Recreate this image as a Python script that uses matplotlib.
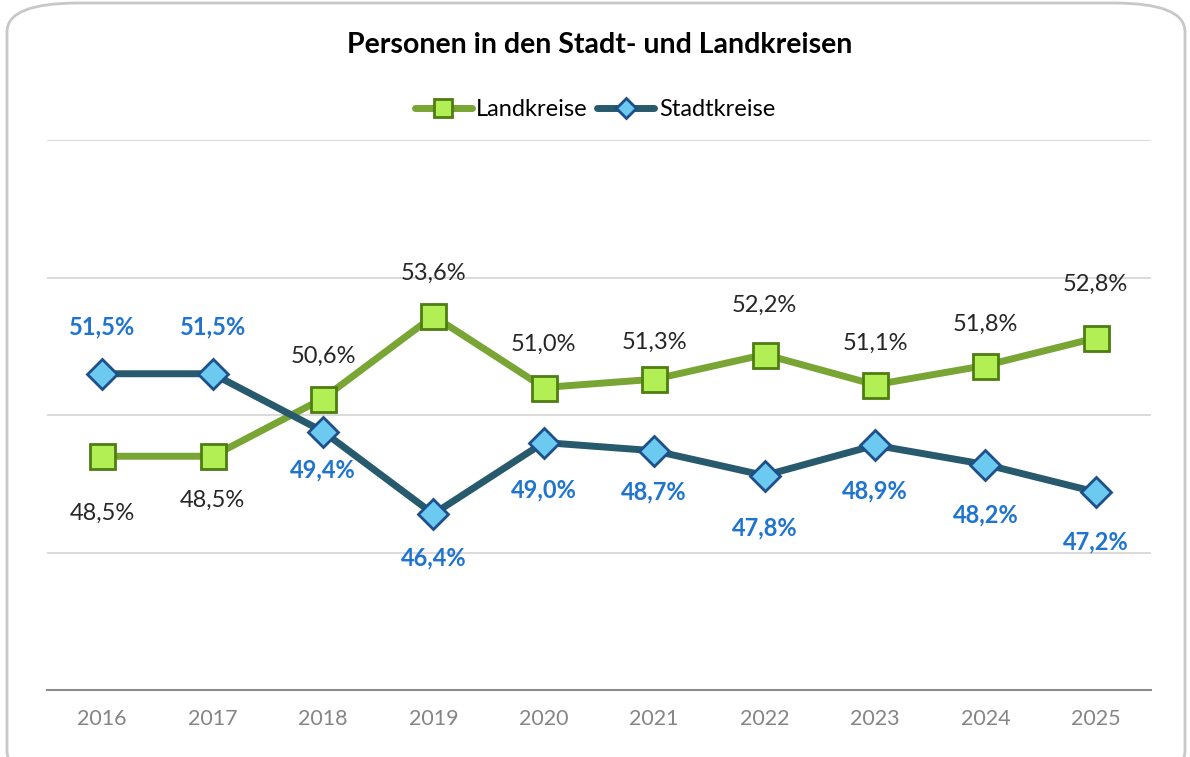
import matplotlib
matplotlib.use("Agg")
import matplotlib.pyplot as plt
from matplotlib.patches import FancyBboxPatch

plt.rcParams['font.family'] = ['Lato', 'DejaVu Sans']

years = ['2016', '2017', '2018', '2019', '2020', '2021', '2022', '2023', '2024', '2025']
landkreise = [48.5, 48.5, 50.6, 53.6, 51.0, 51.3, 52.2, 51.1, 51.8, 52.8]
stadtkreise = [51.5, 51.5, 49.4, 46.4, 49.0, 48.7, 47.8, 48.9, 48.2, 47.2]

# label offsets in pixels (positive = above the point)
land_off = [-57, -44, 42, 43, 43, 37, 49, 41, 41, 54]
stadt_off = [47, 47, -38, -44, -47, -41, -52, -46, -50, -50]

fig = plt.figure(figsize=(11.9, 7.57), dpi=100)

# rounded chart frame
frame = FancyBboxPatch((7 / 1190, 0.0 - 0.03), 1178 / 1190, 1 - 3 / 757 + 0.03,
                       boxstyle="round,pad=0,rounding_size=0.06",
                       transform=fig.transFigure, facecolor='white',
                       edgecolor='#c8c8c8', linewidth=2, mutation_aspect=757 / 1190,
                       clip_on=False, zorder=-5)
fig.patches.append(frame)

ax = fig.add_axes([47 / 1190, 1 - 690 / 757, 1104 / 1190, 550 / 757])
ax.set_facecolor('none')
x = range(len(years))

ax.plot(x, landkreise, color='#78a534', lw=5, marker='s', markersize=18,
        markerfacecolor='#b2ef55', markeredgecolor='#4e7d12', markeredgewidth=2,
        label='Landkreise', zorder=3, solid_capstyle='round')
ax.plot(x, stadtkreise, color='#275a6c', lw=5, marker='D', markersize=15,
        markerfacecolor='#6ccaf0', markeredgecolor='#1d4f8a', markeredgewidth=2,
        label='Stadtkreise', zorder=4, solid_capstyle='round')

for i, v in enumerate(landkreise):
    ax.annotate(f"{v:.1f}%".replace('.', ','), (i, v), xytext=(0, land_off[i]),
                textcoords='offset pixels', ha='center', va='center',
                fontsize=17, color='#262626')
for i, v in enumerate(stadtkreise):
    ax.annotate(f"{v:.1f}%".replace('.', ','), (i, v), xytext=(0, stadt_off[i]),
                textcoords='offset pixels', ha='center', va='center',
                fontsize=17, color='#1f74d0', fontweight='bold')

ax.set_xlim(-0.5, len(years) - 0.5)
ax.set_ylim(40, 60)
ax.set_yticks([40, 45, 50, 55, 60])
ax.set_yticklabels([])
ax.tick_params(axis='y', length=0)
ax.grid(axis='y', color='#d4d4d4', lw=1.2)
ax.set_axisbelow(True)
ax.set_xticks(list(x))
ax.set_xticklabels(years, fontsize=15.5, color='#858585')
ax.tick_params(axis='x', length=0, pad=14)
for s in ['top', 'left', 'right']:
    ax.spines[s].set_visible(False)
ax.spines['bottom'].set_color('#8c8c8c')
ax.spines['bottom'].set_linewidth(1.5)

fig.text(0.504, 1 - 45 / 757, 'Personen in den Stadt- und Landkreisen',
         ha='center', va='center', fontsize=20.5, fontweight='bold', color='black')

fig.legend(loc='center', bbox_to_anchor=(0.5, 1 - 110 / 757), ncol=2, frameon=False,
           fontsize=17, handlelength=2.4, columnspacing=0.4, handletextpad=0.2,
           markerscale=0.7)

fig.savefig('out.png', dpi=100)
